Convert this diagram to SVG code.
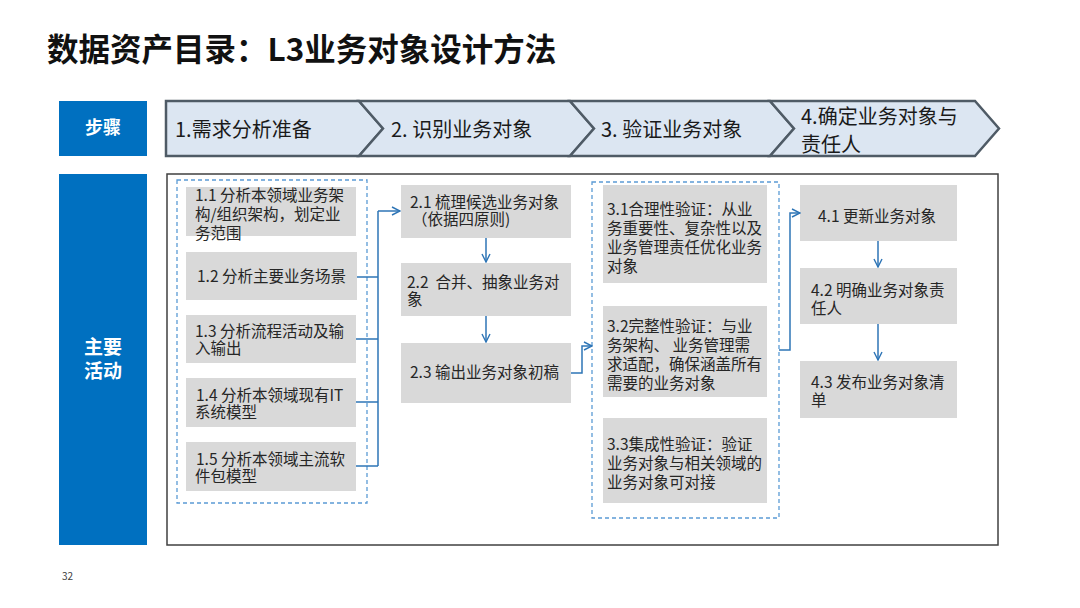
<svg xmlns="http://www.w3.org/2000/svg" width="1080" height="608" viewBox="0 0 1080 608">
<defs>
<marker id="ah" viewBox="0 0 10 10" refX="9" refY="5" markerWidth="10" markerHeight="10" markerUnits="userSpaceOnUse" orient="auto">
<path d="M1,1 L9,5 L1,9" fill="none" stroke="#2E75B6" stroke-width="1.4"/>
</marker>
</defs>
<style>
text{font-family:"Microsoft YaHei","Noto Sans CJK SC","Liberation Sans",sans-serif;fill:#262626}
.t{font-size:15.5px}
.ch{font-size:20px;fill:#1a1a1a}
.bx{fill:#D9D9D9}
.lbl{fill:#0070C0}
.wt{fill:#fff;font-weight:bold;text-anchor:middle}
.chev{fill:#DCE6F2;stroke:#4F5B66;stroke-width:2.5;stroke-linejoin:miter}
.dash{fill:none;stroke:#5B9BD5;stroke-width:1.3;stroke-dasharray:4 3}
.cn{fill:none;stroke:#2E75B6;stroke-width:1.5}
</style>
<rect width="1080" height="608" fill="#fff"/>
<text x="47" y="61" style="font-size:31.5px;font-weight:bold;fill:#111">数据资产目录：L3业务对象设计方法</text>

<g id="steps-label"><rect class="lbl" x="59" y="101" width="88" height="55"/><text class="wt" x="103" y="134" style="font-size:18px">步骤</text></g>
<g id="activities-label"><rect class="lbl" x="59" y="174" width="88" height="371"/><text class="wt" x="103" y="354" style="font-size:19px">主要</text><text class="wt" x="103" y="378" style="font-size:19px">活动</text></g>

<g id="step1"><path class="chev" d="M166,101 L359,101 L383,128.5 L359,156 L166,156 Z"/><text class="ch" x="175" y="137">1.需求分析准备</text></g>
<g id="step2"><path class="chev" d="M359,101 L570,101 L594,128.5 L570,156 L359,156 L383,128.5 Z"/><text class="ch" x="391" y="137">2. 识别业务对象</text></g>
<g id="step3"><path class="chev" d="M570,101 L770,101 L794,128.5 L770,156 L570,156 L594,128.5 Z"/><text class="ch" x="601" y="137">3. 验证业务对象</text></g>
<g id="step4"><path class="chev" d="M770,101 L975,101 L999,128.5 L975,156 L770,156 L794,128.5 Z"/><text class="ch" x="801" y="124">4.确定业务对象与</text><text class="ch" x="801" y="152">责任人</text></g>

<g id="main-frame"><rect x="167" y="174" width="831" height="371" fill="#fff" stroke="#404040" stroke-width="1.5"/></g>

<g id="group1"><rect class="dash" x="177" y="180" width="190" height="323"/></g>
<g id="n11"><rect class="bx" x="186" y="187" width="170" height="49"/><text class="t" x="195" y="201">1.1 分析本领域业务架</text><text class="t" x="195" y="220">构/组织架构，划定业</text><text class="t" x="195" y="239">务范围</text></g>
<g id="n12"><rect class="bx" x="186" y="252" width="171" height="48"/><text class="t" x="197" y="282">1.2 分析主要业务场景</text></g>
<g id="n13"><rect class="bx" x="186" y="315" width="170" height="48"/><text class="t" x="195" y="337">1.3 分析流程活动及输</text><text class="t" x="195" y="354">入输出</text></g>
<g id="n14"><rect class="bx" x="186" y="378" width="170" height="49"/><text class="t" x="196" y="401">1.4 分析本领域现有IT</text><text class="t" x="195" y="418">系统模型</text></g>
<g id="n15"><rect class="bx" x="186" y="442" width="170" height="49"/><text class="t" x="196" y="465">1.5 分析本领域主流软</text><text class="t" x="195" y="482">件包模型</text></g>

<g id="n21"><rect class="bx" x="401" y="185" width="170" height="53"/><text class="t" x="410" y="208">2.1 梳理候选业务对象</text><text class="t" x="412" y="225">（依据四原则)</text></g>
<g id="n22"><rect class="bx" x="401" y="263" width="170" height="53"/><text class="t" x="407" y="288" xml:space="preserve">2.2  合并、抽象业务对</text><text class="t" x="407" y="305">象</text></g>
<g id="n23"><rect class="bx" x="401" y="343" width="170" height="60"/><text class="t" x="410" y="378">2.3 输出业务对象初稿</text></g>

<g id="group3"><rect class="dash" x="592" y="182" width="187" height="336"/></g>
<g id="n31"><rect class="bx" x="603" y="185" width="164" height="98"/><text class="t" x="607" y="215">3.1合理性验证：从业</text><text class="t" x="607" y="234">务重要性、复杂性以及</text><text class="t" x="607" y="253">业务管理责任优化业务</text><text class="t" x="607" y="272">对象</text></g>
<g id="n32"><rect class="bx" x="603" y="306" width="164" height="91"/><text class="t" x="607" y="332">3.2完整性验证：与业</text><text class="t" x="607" y="351" xml:space="preserve">务架构、 业务管理需</text><text class="t" x="607" y="370">求适配，确保涵盖所有</text><text class="t" x="607" y="389">需要的业务对象</text></g>
<g id="n33"><rect class="bx" x="603" y="418" width="164" height="85"/><text class="t" x="607" y="450">3.3集成性验证：验证</text><text class="t" x="607" y="469">业务对象与相关领域的</text><text class="t" x="607" y="488">业务对象可对接</text></g>

<g id="n41"><rect class="bx" x="800" y="185" width="157" height="56"/><text class="t" x="818" y="222">4.1 更新业务对象</text></g>
<g id="n42"><rect class="bx" x="800" y="268" width="157" height="56"/><text class="t" x="811" y="296">4.2 明确业务对象责</text><text class="t" x="811" y="314">任人</text></g>
<g id="n43"><rect class="bx" x="800" y="361" width="157" height="57"/><text class="t" x="811" y="388">4.3 发布业务对象清</text><text class="t" x="811" y="406">单</text></g>

<g id="connectors">
<path class="cn" d="M357,277 H378 M356,339 H378 M356,402 H378 M356,466 H378 M378,466 V211"/>
<path class="cn" d="M378,211 H400" marker-end="url(#ah)"/>
<path class="cn" d="M486,238 V262" marker-end="url(#ah)"/>
<path class="cn" d="M486,316 V342" marker-end="url(#ah)"/>
<path class="cn" d="M571,373 H582 V346 H592" marker-end="url(#ah)"/>
<path class="cn" d="M779,350 H790 V213 H800" marker-end="url(#ah)"/>
<path class="cn" d="M878,241 V267" marker-end="url(#ah)"/>
<path class="cn" d="M878,324 V360" marker-end="url(#ah)"/>
</g>

<text x="62" y="580" style="font-size:10px;fill:#404040">32</text>
</svg>
